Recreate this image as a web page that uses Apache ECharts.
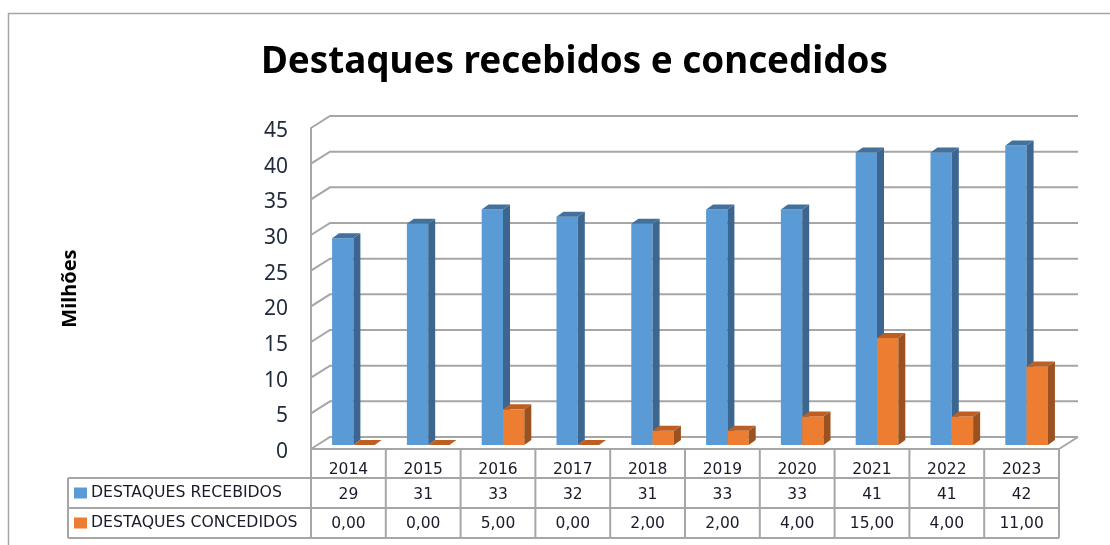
<!DOCTYPE html>
<html>
<head>
<meta charset="utf-8">
<style>html,body{margin:0;padding:0;background:#fff}#chart{width:1110px;height:545px}</style>
<script src="https://cdn.jsdelivr.net/npm/echarts@6/dist/echarts.min.js"></script>
</head>
<body>
<div id="chart"></div>
<script>
var anos = ['2014','2015','2016','2017','2018','2019','2020','2021','2022','2023'];
var recebidos = [29,31,33,32,31,33,33,41,41,42];
var concedidos = [0,0,5,0,2,2,4,15,4,11];
var marcas = [0,5,10,15,20,25,30,35,40,45];

var fonte = '"Noto Sans", sans-serif';
var fonteTabela = '"DejaVu Sans", sans-serif';
var cinza = '#a6a6a6';
var textoTabela = '#1a1a2a';

// profundidade do "3D" falso
var fundoX = 19, fundoY = -12;
var barraX = 5, barraY = -4;
var ladoX = 7, ladoY = -5;

var chart = echarts.init(document.getElementById('chart'));

function linha(x1, y1, x2, y2, cor, w) {
    return {type:'line', shape:{x1:x1, y1:y1, x2:x2, y2:y2}, style:{stroke:cor, lineWidth:w}, silent:true};
}

function barra3d(frente, lado, topo, deslocamento) {
    return function(params, api) {
        var base = api.coord([api.value(0), 0]);
        var alto = api.coord([api.value(0), api.value(1)]);
        var larg = api.size([1, 0])[0] * 0.285;
        var x = base[0] + barraX + deslocamento * larg;
        var y0 = base[1] + barraY;
        var y1 = alto[1] + barraY;
        return {type:'group', children:[
            {type:'rect', shape:{x:x, y:y1, width:larg, height:y0-y1}, style:{fill:frente}},
            {type:'polygon', shape:{points:[[x+larg,y1],[x+larg+ladoX,y1+ladoY],[x+larg+ladoX,y0+ladoY],[x+larg,y0]]}, style:{fill:lado}},
            {type:'polygon', shape:{points:[[x,y1],[x+ladoX,y1+ladoY],[x+larg+ladoX,y1+ladoY],[x+larg,y1]]}, style:{fill:topo}}
        ]};
    };
}

function fundo(params, api) {
    var p = api.coord([0, api.value(0)]);
    var larg = api.size([1, 0])[0] * anos.length;
    var x = p[0] - api.size([1, 0])[0] / 2;
    var y = p[1];
    return {type:'polyline', silent:true,
        shape:{points:[[x,y],[x+fundoX,y+fundoY],[x+larg+fundoX,y+fundoY]]},
        style:{stroke:cinza, lineWidth:2, fill:null}};
}

function celula(params, api) {
    var i = api.value(0);
    var c = api.coord([i, 0]);
    var larg = api.size([1, 0])[0];
    var dir = c[0] + larg / 2;
    var filhos = [
        linha(dir, 449, dir, 538, cinza, 2),
        {type:'text', silent:true, style:{x:c[0], y:495, text:String(recebidos[i]), align:'center', verticalAlign:'middle', font:'15.5px ' + fonteTabela, fill:textoTabela}},
        {type:'text', silent:true, style:{x:c[0], y:524, text:concedidos[i].toFixed(2).replace('.', ','), align:'center', verticalAlign:'middle', font:'15.5px ' + fonteTabela, fill:textoTabela}}
    ];
    if (i === 0) filhos.push(linha(c[0] - larg / 2, 449, c[0] - larg / 2, 538, cinza, 2));
    return {type:'group', children:filhos};
}

var option = {
    animation: false,
    backgroundColor: '#fff',
    title: {
        text: 'Destaques recebidos e concedidos',
        left: 569.5, top: 39, textAlign: 'center',
        textStyle: {fontFamily: fonte, fontSize: 36.8, fontWeight: 'bold', color: '#000'}
    },
    legend: {
        orient: 'vertical', left: 74, top: 483, padding: 0,
        itemWidth: 13, itemHeight: 11, itemGap: 10,
        icon: 'rect', selectedMode: false,
        textStyle: {fontFamily: fonteTabela, fontSize: 15.7, lineHeight: 18, color: textoTabela, padding: [2,0,0,-1]},
        data: ['DESTAQUES RECEBIDOS', 'DESTAQUES CONCEDIDOS']
    },
    grid: {left: 311, top: 128, width: 748, height: 321},
    xAxis: {
        type: 'category', data: anos,
        axisLine: {lineStyle: {color: cinza, width: 2}},
        axisTick: {show: false}, splitLine: {show: false},
        axisLabel: {margin: 13, fontFamily: fonteTabela, fontSize: 15.5, color: textoTabela}
    },
    yAxis: {
        type: 'value', min: 0, max: 45, interval: 5,
        name: 'Milhões', nameLocation: 'middle', nameGap: 231,
        nameTextStyle: {fontFamily: fonte, fontSize: 20, fontWeight: 'bold', color: '#000'},
        axisLine: {show: true, lineStyle: {color: cinza, width: 2}},
        axisTick: {show: false}, splitLine: {show: false},
        axisLabel: {margin: 23, fontFamily: fonte, fontSize: 21, color: '#1f2a3a', verticalAlign: 'top', lineHeight: 6}
    },
    graphic: [
        {type:'polyline', silent:true, shape:{points:[[8.5,545],[8.5,13.5],[1110,13.5]]}, style:{stroke:cinza, lineWidth:1.5, fill:null}},
        {type:'line', silent:true, shape:{x1:1059, y1:449, x2:1078, y2:437}, style:{stroke:cinza, lineWidth:2}},
        {type:'line', silent:true, shape:{x1:68, y1:478, x2:1059, y2:478}, style:{stroke:cinza, lineWidth:2}},
        {type:'line', silent:true, shape:{x1:68, y1:508, x2:1059, y2:508}, style:{stroke:cinza, lineWidth:2}},
        {type:'line', silent:true, shape:{x1:68, y1:538, x2:1059, y2:538}, style:{stroke:cinza, lineWidth:2}},
        {type:'line', silent:true, shape:{x1:68, y1:478, x2:68, y2:538}, style:{stroke:cinza, lineWidth:2}}
    ],
    series: [
        {
            type: 'custom', name: 'fundo', z: 1, silent: true,
            coordinateSystem: 'cartesian2d',
            data: marcas.map(function(v){ return [v]; }),
            encode: {x: -1, y: 0},
            renderItem: fundo
        },
        {
            type: 'custom', name: 'DESTAQUES RECEBIDOS', z: 3,
            itemStyle: {color: '#5b9bd5'},
            data: recebidos.map(function(v, i){ return [i, v]; }),
            encode: {x: 0, y: 1},
            renderItem: barra3d('#5b9bd5', '#3c6690', '#41719c', -1)
        },
        {
            type: 'custom', name: 'DESTAQUES CONCEDIDOS', z: 4,
            itemStyle: {color: '#ed7d31'},
            data: concedidos.map(function(v, i){ return [i, v]; }),
            encode: {x: 0, y: 1},
            renderItem: barra3d('#ed7d31', '#9c5220', '#bd5f22', 0)
        },
        {
            type: 'custom', name: 'tabela', z: 2, silent: true,
            data: anos.map(function(a, i){ return [i, 0]; }),
            encode: {x: 0, y: 1},
            renderItem: celula
        }
    ]
};

chart.setOption(option);
</script>
</body>
</html>
